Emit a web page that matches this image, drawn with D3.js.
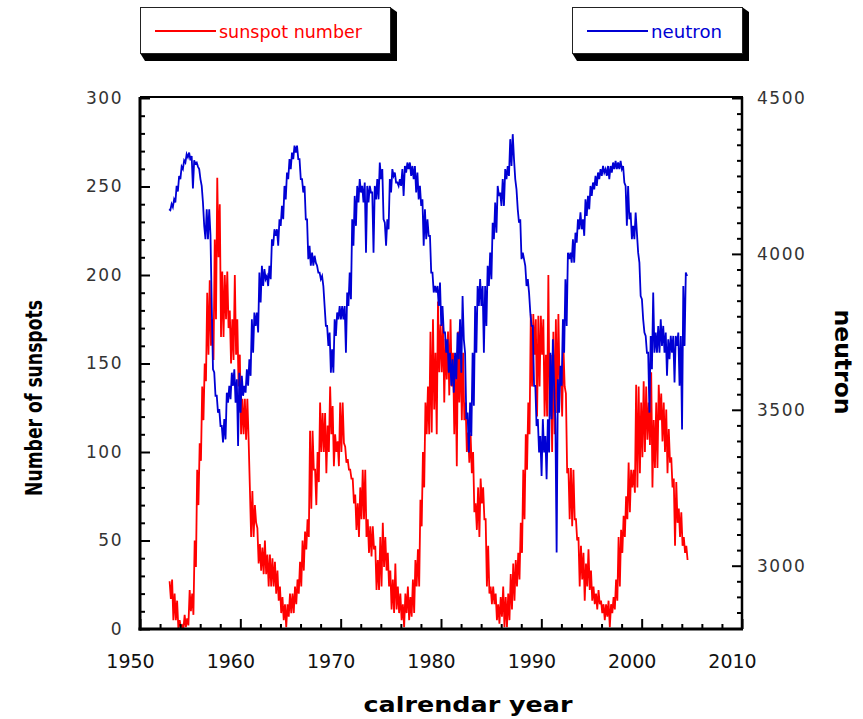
<!DOCTYPE html>
<html>
<head>
<meta charset="utf-8">
<script src="https://cdn.jsdelivr.net/npm/d3@7"></script>
<style>
  body { margin: 0; background: #fff; }
  svg text { font-family: "DejaVu Sans", sans-serif; }
</style>
</head>
<body>
<div id="chart"></div>
<script>
// sunspot number, two readings per quarter (band top, band bottom), from 1953
const sunStart = 1952.95;
const neuStart = 1952.9;
const step = 0.125; // years between readings

const sunspots = [
  27,17, 28,5, 20,5, 16,0,
  5,1, 2,0, 8,1, 6,2,
  22,10, 20,8, 50,35, 90,70,
  105,95, 137,118, 150,140, 190,155,
  197,160, 175,152, 220,175, 255,210,
  240,165, 202,165, 200,175, 202,170,
  180,150, 175,152, 200,155, 175,137,
  155,110, 130,110, 130,107, 130,107,
  80,52, 78,52, 70,60, 57,37,
  48,33, 46,31, 50,31, 42,24,
  42,24, 40,24, 38,20, 33,16,
  24,9, 18,5, 14,1, 14,7,
  20,9, 20,9, 24,14, 28,20,
  38,24, 50,33, 55,45, 62,52,
  112,68, 112,90, 90,70, 100,83,
  128,100, 122,100, 122,88, 115,100,
  137,110, 126,92, 110,100, 106,92,
  128,100, 128,105, 103,94, 96,90,
  90,85, 85,71, 76,56, 71,52,
  80,62, 90,62, 90,52, 62,43,
  58,41, 58,45, 47,22, 39,22,
  52,24, 60,35, 52,33, 43,24,
  33,11, 28,9, 37,11, 24,9,
  20,5, 14,1, 20,9, 24,5,
  18,7, 28,9, 39,24, 45,24,
  73,58, 100,80, 128,110, 137,110,
  168,111, 175,124, 156,110, 185,145,
  172,145, 175,128, 164,141, 168,132,
  175,137, 156,110, 150,92, 168,128,
  160,118, 156,118, 128,100, 111,94,
  110,88, 100,66, 71,56, 80,52,
  85,71, 80,62, 62,24, 47,20,
  24,14, 24,14, 20,5, 14,3,
  18,7, 24,1, 18,1, 20,5,
  31,11, 37,16, 39,24, 43,28,
  60,43, 90,62, 110,90, 128,110,
  178,137, 178,155, 175,120, 177,137,
  177,155, 175,120, 155,120, 200,120,
  155,100, 168,110, 175,122, 178,137,
  148,120, 160,137, 133,88, 91,62,
  91,58, 90,62, 62,50, 52,24,
  47,28, 43,16, 37,24, 45,22,
  33,16, 24,14, 20,11, 22,14,
  16,9, 14,5, 14,7, 16,1,
  14,9, 18,11, 28,16, 52,24,
  56,43, 64,52, 75,62, 94,66,
  90,80, 90,77, 138,80, 137,88,
  128,97, 140,100, 137,107, 128,104,
  145,80, 118,91, 128,91, 138,118,
  133,106, 128,100, 124,88, 113,94,
  97,80, 85,47, 83,60, 68,52,
  66,47, 52,43, 47,39
];

// neutron monitor counts, same layout
const neutron = [
  4143,4140, 4160,4150, 4175,4165, 4218,4200,
  4250,4240, 4280,4272, 4300,4293, 4320,4310,
  4325,4300, 4314,4210, 4300,4290, 4293,4280,
  4272,4240, 4218,4165, 4090,4047, 4143,4047,
  4143,4060, 3833,3630, 3620,3545, 3545,3491,
  3502,3448, 3448,3395, 3470,3405, 3555,3523,
  3577,3534, 3619,3577, 3630,3523, 3598,3384,
  3619,3491, 3609,3545, 3577,3555, 3630,3577,
  3662,3609, 3790,3683, 3812,3769, 3812,3748,
  3940,3844, 3962,3897, 3951,3919, 3929,3897,
  3962,3919, 4047,4026, 4079,4058, 4079,4026,
  4111,4090, 4154,4111, 4218,4175, 4261,4240,
  4304,4272, 4325,4304, 4347,4325, 4347,4304,
  4304,4240, 4240,4197, 4218,4111, 4111,3983,
  4026,3962, 4004,3962, 3994,3972, 3962,3940,
  3940,3919, 3929,3897, 3833,3769, 3769,3705,
  3748,3619, 3694,3619, 3790,3737, 3812,3790,
  3833,3790, 3833,3790, 3833,3683, 3876,3833,
  3940,3855, 4111,4026, 4186,4090, 4218,4165,
  4240,4197, 4218,4165, 4229,4004, 4218,4165,
  4218,4197, 4197,4004, 4218,4175, 4240,4175,
  4293,4240, 4272,4111, 4100,4026, 4111,4079,
  4240,4197, 4272,4250, 4261,4229, 4229,4218,
  4240,4218, 4272,4186, 4282,4261, 4293,4272,
  4293,4250, 4282,4240, 4282,4197, 4261,4175,
  4218,4154, 4175,4026, 4143,4047, 4111,4058,
  4058,3940, 3940,3876, 3897,3876, 3897,3833,
  3908,3769, 3833,3748, 3748,3683, 3726,3619,
  3683,3577, 3662,3555, 3683,3598, 3748,3662,
  3790,3619, 3865,3726, 3683,3470, 3491,3363,
  3523,3416, 3683,3513, 3833,3683, 3897,3833,
  3919,3833, 3897,3683, 3897,3769, 3962,3897,
  4004,3919, 4100,4047, 4165,4068, 4218,4186,
  4197,4154, 4240,4154, 4272,4240, 4282,4250,
  4368,4282, 4384,4304, 4240,4207, 4143,4100,
  4111,3983, 4004,3983, 3962,3897, 3919,3876,
  3812,3769, 3769,3577, 3577,3448, 3470,3363,
  3416,3288, 3470,3363, 3416,3277, 3470,3363,
  3683,3470, 3726,3577, 3470,3042, 3598,3491,
  3641,3577, 3790,3683, 3919,3769, 4004,3983,
  4004,3972, 4047,3972, 4068,4036, 4111,4079,
  4133,4079, 4111,4058, 4175,4122, 4186,4143,
  4218,4186, 4229,4207, 4250,4218, 4261,4240,
  4272,4250, 4282,4261, 4272,4250, 4282,4240,
  4282,4261, 4293,4272, 4298,4272, 4293,4272,
  4298,4272, 4282,4229, 4218,4090, 4218,4111,
  4133,4047, 4090,4047, 4133,4068, 4004,3972,
  3865,3855, 3790,3748, 3737,3683, 3683,3491,
  3737,3630, 3876,3683, 3748,3683, 3769,3683,
  3790,3705, 3769,3683, 3748,3609, 3726,3662,
  3737,3683, 3737,3588, 3737,3705, 3748,3577,
  3737,3437, 3897,3705, 3940,3929
];

const yearTicks = [1950, 1960, 1970, 1980, 1990, 2000, 2010];
const sunTicks = [0, 50, 100, 150, 200, 250, 300];
const neuTicks = [3000, 3500, 4000, 4500];
const legendLabels = ["sunspot number", "neutron"];

const width = 863, height = 719;
const plotL = 140, plotR = 742, plotT = 98, plotB = 629;
const red = "#ff0000", blue = "#0000d4";

const x = d3.scaleLinear().domain([1950, 2010]).range([plotL, plotR]);
const ySun = d3.scaleLinear().domain([0, 300]).range([plotB, plotT]);
const yNeu = d3.scaleLinear().domain([2797, 4500]).range([plotB, plotT]);

const svg = d3.select("#chart").append("svg")
    .attr("width", width)
    .attr("height", height);

svg.append("defs").append("clipPath").attr("id", "plot")
  .append("rect").attr("x", plotL).attr("y", plotT - 1)
  .attr("width", plotR - plotL).attr("height", plotB - plotT + 1);

// --- data lines ---
const sunLine = d3.line()
    .x((d, i) => x(sunStart + i * step))
    .y(d => ySun(d));
const neuLine = d3.line()
    .x((d, i) => x(neuStart + i * step))
    .y(d => yNeu(d));

const plot = svg.append("g").attr("clip-path", "url(#plot)");
plot.append("path").datum(sunspots)
    .attr("d", sunLine)
    .attr("fill", "none").attr("stroke", red).attr("stroke-width", 1.8);
plot.append("path").datum(neutron)
    .attr("d", neuLine)
    .attr("fill", "none").attr("stroke", blue).attr("stroke-width", 1.8);

// --- inward ticks ---
function ticksOnly(g, major, minorLen, majorLen) {
  g.select(".domain").remove();
  g.selectAll("text").remove();
  g.selectAll(".tick line").attr("stroke", "#000").attr("stroke-width", 2)
    .each(function (d) {
      const len = major.includes(d) ? majorLen : minorLen;
      const l = d3.select(this);
      if (l.attr("x2") !== null && +l.attr("x2") !== 0) l.attr("x2", Math.sign(+l.attr("x2")) * len);
      if (l.attr("y2") !== null && +l.attr("y2") !== 0) l.attr("y2", Math.sign(+l.attr("y2")) * len);
    });
}

svg.append("g").attr("transform", `translate(${plotL},0)`)
  .call(d3.axisRight(ySun).tickValues(d3.range(0, 301, 10)).tickSize(5))
  .call(g => ticksOnly(g, sunTicks, 5, 10));

svg.append("g").attr("transform", `translate(${plotR},0)`)
  .call(d3.axisLeft(yNeu).tickValues(d3.range(2850, 4501, 50)).tickSize(5))
  .call(g => ticksOnly(g, neuTicks, 5, 10));

svg.append("g").attr("transform", `translate(0,${plotB})`)
  .call(d3.axisTop(x).tickValues(d3.range(1950, 2011, 2)).tickSize(5))
  .call(g => ticksOnly(g, yearTicks, 5, 10));

// --- frame ---
const frame = svg.append("g").attr("stroke", "#000").attr("fill", "none");
frame.append("line").attr("x1", plotL).attr("x2", plotL).attr("y1", plotT - 1).attr("y2", plotB + 1.5).attr("stroke-width", 3);
frame.append("line").attr("x1", plotL - 1.5).attr("x2", plotR + 1).attr("y1", plotB).attr("y2", plotB).attr("stroke-width", 3);
frame.append("line").attr("x1", plotL).attr("x2", plotR + 1).attr("y1", plotT - 1).attr("y2", plotT - 1).attr("stroke-width", 2);
frame.append("line").attr("x1", plotR).attr("x2", plotR).attr("y1", plotT - 1).attr("y2", plotB).attr("stroke-width", 2.5);

// --- tick labels ---
const bareAxis = g => {
  g.select(".domain").remove();
  g.selectAll(".tick line").remove();
};

svg.append("g").attr("transform", `translate(${plotL},0)`)
  .call(d3.axisLeft(ySun).tickValues(sunTicks).tickSize(0).tickPadding(17))
  .call(bareAxis)
  .selectAll("text")
    .attr("font-size", 17).attr("fill", "#333").attr("letter-spacing", 1.5)
    .attr("font-family", "DejaVu Sans");

svg.append("g").attr("transform", `translate(${plotR},0)`)
  .call(d3.axisRight(yNeu).tickValues(neuTicks).tickFormat(d3.format("d")).tickSize(0).tickPadding(15))
  .call(bareAxis)
  .selectAll("text")
    .attr("font-size", 17).attr("fill", "#333").attr("letter-spacing", 1.5)
    .attr("font-family", "DejaVu Sans");

svg.append("g").attr("transform", `translate(0,${plotB})`)
  .call(d3.axisBottom(x).tickValues(yearTicks).tickFormat(d3.format("d")).tickSize(0))
  .call(bareAxis)
  .selectAll("text")
    .attr("y", 39).attr("dy", 0).attr("dx", -10)
    .attr("font-size", 19).attr("fill", "#111")
    .attr("font-family", "DejaVu Sans");

// --- axis titles ---
svg.append("text")
    .attr("x", 468).attr("y", 712)
    .attr("text-anchor", "middle")
    .attr("font-size", 21).attr("font-weight", "bold")
    .attr("textLength", 209).attr("lengthAdjust", "spacingAndGlyphs")
    .text("calrendar year");

svg.append("text")
    .attr("transform", "translate(42,398) rotate(-90)")
    .attr("text-anchor", "middle")
    .attr("font-size", 23).attr("font-weight", "bold")
    .attr("textLength", 196).attr("lengthAdjust", "spacingAndGlyphs")
    .text("Number of sunspots");

svg.append("text")
    .attr("transform", "translate(835,362) rotate(90)")
    .attr("text-anchor", "middle")
    .attr("font-size", 23).attr("font-weight", "bold")
    .attr("textLength", 105).attr("lengthAdjust", "spacingAndGlyphs")
    .text("neutron");

// --- legend boxes ---
const legendBoxes = [
  { x0: 140, x1: 390, color: red, len: 143 },
  { x0: 572, x1: 742, color: blue, len: 71 }
];
legendBoxes.forEach((b, i) => {
  const y0 = 7, y1 = 53;
  const g = svg.append("g");
  g.append("polygon")
    .attr("points", [[b.x1, y0], [b.x1 + 7, y0 + 5], [b.x1 + 7, y1 + 8],
                     [b.x0 + 5, y1 + 8], [b.x0, y1]].map(p => p.join(",")).join(" "))
    .attr("fill", "#000");
  g.append("rect")
    .attr("x", b.x0 + 0.5).attr("y", y0 + 0.5)
    .attr("width", b.x1 - b.x0).attr("height", y1 - y0)
    .attr("fill", "#fff").attr("stroke", "#222").attr("stroke-width", 1);
  g.append("line")
    .attr("x1", b.x0 + 15).attr("x2", b.x0 + 76)
    .attr("y1", 31).attr("y2", 31)
    .attr("stroke", b.color).attr("stroke-width", 2);
  g.append("text")
    .attr("x", b.x0 + 79).attr("y", 38)
    .attr("font-size", 17.5).attr("fill", b.color)
    .attr("textLength", b.len).attr("lengthAdjust", "spacingAndGlyphs")
    .text(legendLabels[i]);
});
</script>
</body>
</html>
